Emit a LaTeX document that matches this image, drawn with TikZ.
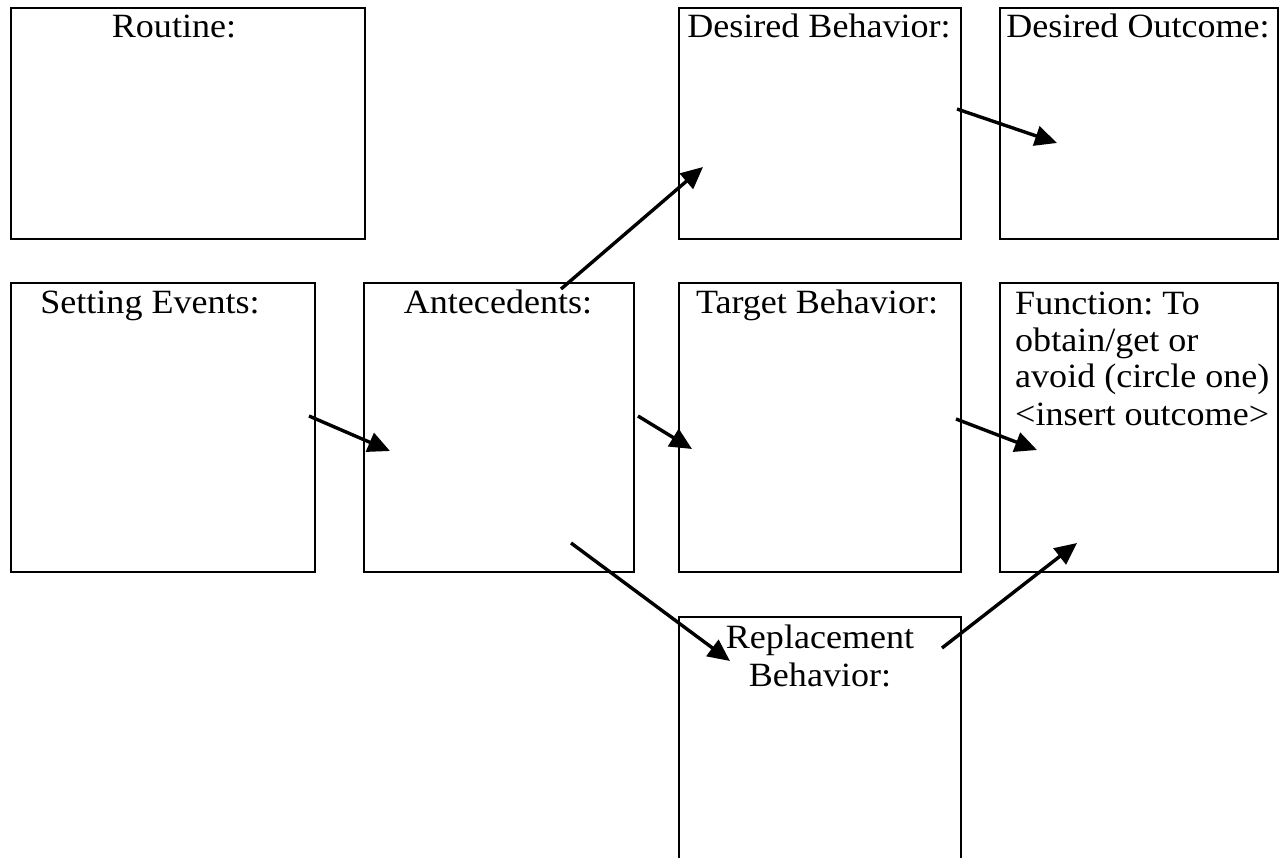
\documentclass[tikz,border=0pt]{standalone}
\usepackage{fontspec}
\setmainfont{Liberation Serif}[FakeStretch=1.06]
\usetikzlibrary{arrows.meta}
\begin{document}
\frenchspacing
\begin{tikzpicture}[x=1pt,y=-1pt,
  box/.style={draw=black,line width=2pt,inner sep=0pt},
  lbl/.style={inner sep=0pt,font=\fontsize{34}{36.7}\selectfont,anchor=base},
  conn/.style={line width=3.4pt,-{Triangle[length=22pt,width=20pt]}}]
\clip (0,0) rectangle (1282,858);
\fill[white] (0,0) rectangle (1282,858);
% boxes
\draw[box] (11,8) rectangle (365,239) node[pos=0.5] (routine) {};
\draw[box] (679,8) rectangle (961,239) node[pos=0.5] (desbeh) {};
\draw[box] (1000,8) rectangle (1278,239) node[pos=0.5] (desout) {};
\draw[box] (11,283) rectangle (315,572) node[pos=0.5] (setting) {};
\draw[box] (364,283) rectangle (634,572) node[pos=0.5] (antec) {};
\draw[box] (679,283) rectangle (961,572) node[pos=0.5] (target) {};
\draw[box] (1000,283) rectangle (1278,572) node[pos=0.5] (func) {};
\draw[box] (679,617) rectangle (961,900) node[pos=0.5] (repl) {};
% labels
\node[lbl] (tRoutine) at (174,38) {Routine:};
\node[lbl] (tDesBeh) at (819,38) {Desired Behavior:};
\node[lbl] (tDesOut) at (1138,38) {Desired Outcome:};
\node[lbl] (tSetting) at (150,314) {Setting Events:};
\node[lbl] (tAntec) at (498,314) {Antecedents:};
\node[lbl] (tTarget) at (817,314) {Target Behavior:};
\node[lbl,anchor=base west] (tFunc1) at (1015,315) {Function: To};
\node[lbl,anchor=base west] (tFunc2) at (1015,352) {obtain/get or};
\node[lbl,anchor=base west] (tFunc3) at (1015,388) {avoid (circle one)};
\node[lbl,anchor=base west] (tFunc4) at (1015,425) {<insert outcome>};
\node[lbl] (tRepl1) at (820,648) {Replacement};
\node[lbl] (tRepl2) at (820,686) {Behavior:};
% connector endpoints
\coordinate (s1) at (309,416); \coordinate (e1) at (390,451);
\coordinate (s2) at (638,416); \coordinate (e2) at (692,449);
\coordinate (s3) at (561,289); \coordinate (e3) at (703,167);
\coordinate (s4) at (957,109); \coordinate (e4) at (1057,143);
\coordinate (s5) at (956,419); \coordinate (e5) at (1037,450);
\coordinate (s6) at (571,543); \coordinate (e6) at (730,661);
\coordinate (s7) at (942,648); \coordinate (e7) at (1077,543);
\draw[conn] (s1) -- (e1);
\draw[conn] (s2) -- (e2);
\draw[conn] (s3) -- (e3);
\draw[conn] (s4) -- (e4);
\draw[conn] (s5) -- (e5);
\draw[conn] (s6) -- (e6);
\draw[conn] (s7) -- (e7);
\end{tikzpicture}
\end{document}
